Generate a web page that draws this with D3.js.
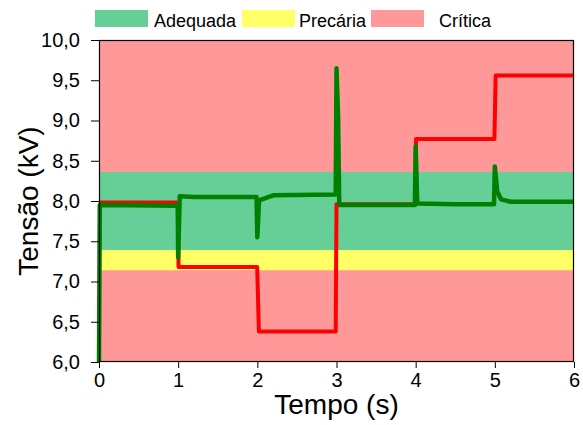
<!DOCTYPE html>
<html>
<head>
<meta charset="utf-8">
<script src="https://cdn.jsdelivr.net/npm/d3@7"></script>
<style>
	body { margin: 0; background: #fff; }
	svg text { font-family: "Liberation Sans", Arial, sans-serif; fill: #000; }
</style>
</head>
<body>
<svg id="chart" width="583" height="425"></svg>
<script>
// tension bands (kV)
var bandNames = ['Adequada', 'Precária', 'Crítica'];
var bandColors = ['#66cf97', '#ffff66', '#ff9999'];
var bands = [
	{ name: 'Crítica', from: 6.0, to: 10.0 },
	{ name: 'Adequada', from: 7.39, to: 8.36 },
	{ name: 'Precária', from: 7.14, to: 7.39 }
];

// reference voltage (red)
var refTime = [0, 0.995, 1.005, 1.998, 2.02, 2.99, 3.0, 3.995, 4.005, 4.995, 5.01, 6];
var refVolt = [7.98, 7.98, 7.18, 7.18, 6.38, 6.38, 7.96, 7.96, 8.77, 8.77, 9.56, 9.56];

// measured voltage (green)
var measTime = [0, 0.01, 0.995, 1.0, 1.02, 1.2, 1.99, 2.0, 2.02, 2.03, 2.2, 2.99, 3.0, 3.02, 3.035, 3.99, 4.0, 4.02, 4.5, 4.99, 5.0, 5.03, 5.08, 5.2, 6.0];
var measVolt = [6.0, 7.95, 7.94, 7.30, 8.06, 8.05, 8.05, 7.55, 7.98, 8.01, 8.07, 8.08, 9.65, 9.05, 7.95, 7.95, 8.68, 7.97, 7.96, 7.96, 8.43, 8.12, 8.02, 7.99, 7.99];

var xTicks = [0, 1, 2, 3, 4, 5, 6];
var yTicks = [6.0, 6.5, 7.0, 7.5, 8.0, 8.5, 9.0, 9.5, 10.0];

(function(){
	var svg = d3.select('#chart');
	var mLeft = 99, mRight = 574, mTop = 40, mBottom = 362;

	var x = d3.scaleLinear().domain([0, 6]).range([mLeft, mRight]);
	var y = d3.scaleLinear().domain([6, 10]).range([mBottom, mTop]);

	var ptBR = d3.formatLocale({ decimal: ',', thousands: '.', grouping: [3], currency: ['R$', ''] });
	var fmt = ptBR.format('.1f');

	// bands
	svg.append('g').selectAll('rect')
		.data(bands)
		.enter().append('rect')
		.attr('x', x(0))
		.attr('width', x(6) - x(0))
		.attr('y', function(d){ return y(d.to); })
		.attr('height', function(d){ return y(d.from) - y(d.to); })
		.attr('fill', function(d){ return bandColors[bandNames.indexOf(d.name)]; });

	// lines
	var line = d3.line()
		.x(function(d){ return x(d[0]); })
		.y(function(d){ return y(d[1]); });

	svg.append('path')
		.datum(d3.zip(refTime, refVolt))
		.attr('d', line)
		.attr('fill', 'none')
		.attr('stroke', '#ff0000')
		.attr('stroke-width', 4)
		.attr('stroke-linejoin', 'round');

	svg.append('path')
		.datum(d3.zip(measTime, measVolt))
		.attr('d', line)
		.attr('fill', 'none')
		.attr('stroke', '#008000')
		.attr('stroke-width', 4.5)
		.attr('stroke-linejoin', 'round');

	// frame
	svg.append('rect')
		.attr('x', mLeft + 0.5)
		.attr('y', mTop + 0.5)
		.attr('width', mRight - mLeft - 1)
		.attr('height', mBottom - mTop - 1)
		.attr('fill', 'none')
		.attr('stroke', '#000')
		.attr('stroke-width', 1.2);

	// axes
	var xAxis = svg.append('g')
		.attr('transform', 'translate(0,' + mBottom + ')')
		.call(d3.axisBottom(x).tickValues(xTicks).tickSize(6).tickPadding(5).tickFormat(d3.format('d')));
	var yAxis = svg.append('g')
		.attr('transform', 'translate(' + mLeft + ',0)')
		.call(d3.axisLeft(y).tickValues(yTicks).tickSize(8).tickPadding(11).tickFormat(fmt));

	[xAxis, yAxis].forEach(function(a){
		a.select('.domain').remove();
		a.selectAll('line').attr('stroke', '#000');
		a.selectAll('text')
			.style('font-family', '"Liberation Sans", Arial, sans-serif')
			.style('font-size', '20px')
			.attr('fill', '#000');
	});

	// axis titles
	svg.append('text')
		.attr('x', (mLeft + mRight) / 2)
		.attr('y', 414)
		.attr('text-anchor', 'middle')
		.style('font-size', '28px')
		.text('Tempo (s)');

	svg.append('text')
		.attr('transform', 'translate(38,' + ((mTop + mBottom) / 2) + ') rotate(-90)')
		.attr('text-anchor', 'middle')
		.style('font-size', '28px')
		.text('Tensão (kV)');

	// legend
	var legendX = [95, 242, 371];
	var legendTextX = [154, 299, 439];
	var legend = svg.append('g');
	for (var i = 0; i < bandNames.length; i++){
		legend.append('rect')
			.attr('x', legendX[i])
			.attr('y', 10)
			.attr('width', 53)
			.attr('height', 17)
			.attr('fill', bandColors[i]);
		legend.append('text')
			.attr('x', legendTextX[i])
			.attr('y', 27)
			.style('font-size', '18px')
			.text(bandNames[i]);
	}
})();
</script>
</body>
</html>
